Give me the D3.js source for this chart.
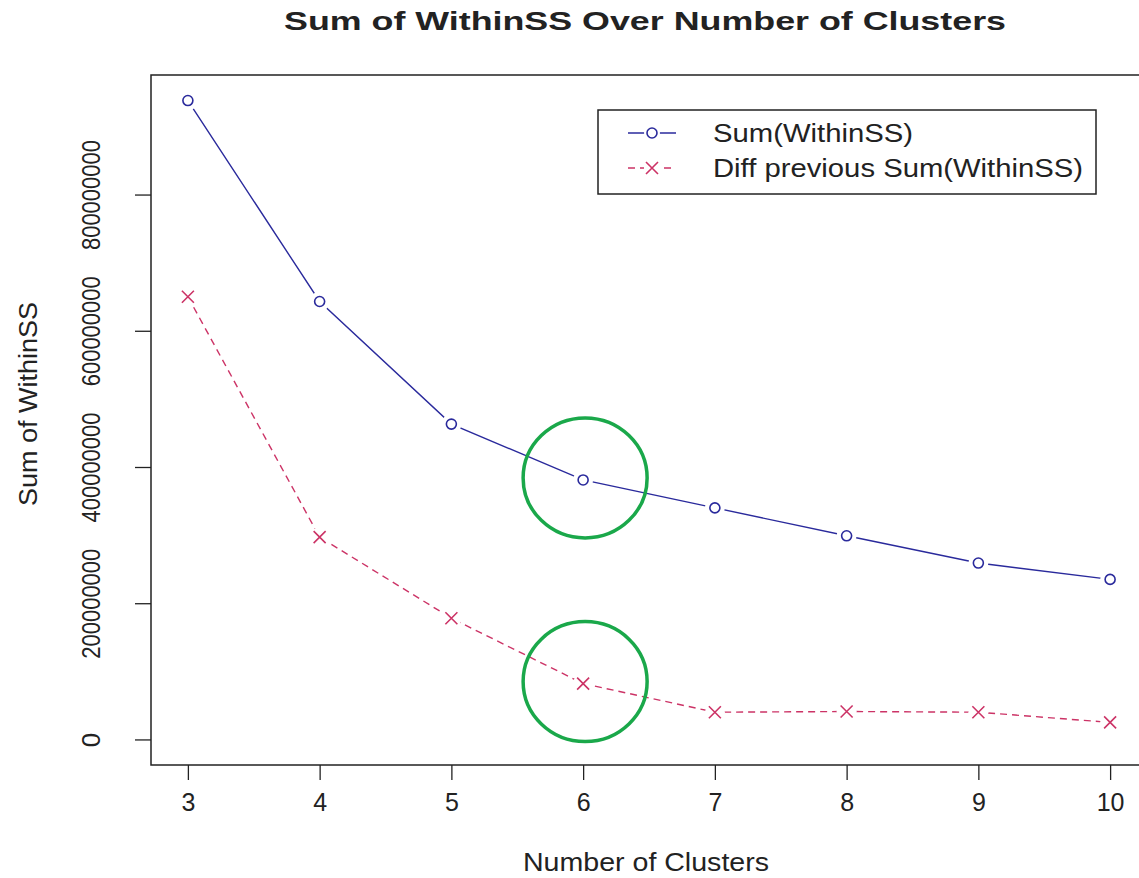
<!DOCTYPE html>
<html>
<head>
<meta charset="utf-8">
<script src="https://cdn.jsdelivr.net/npm/d3@7"></script>
<style>
  body { margin: 0; background: #fff; }
  text { font-family: "Liberation Sans", Arial, sans-serif; fill: #222; }
</style>
</head>
<body>
<svg id="chart"></svg>
<script>
var width = 1139;
var height = 878;

// data
var clusters = [3, 4, 5, 6, 7, 8, 9, 10];
var sumWithinSS = [938e6, 643e6, 463e6, 381e6, 340e6, 299e6, 259e6, 235e6];
var diffPrevious = [650e6, 297e6, 178e6, 82e6, 40e6, 41e6, 40e6, 25e6];
var yTicks = [0, 200e6, 400e6, 600e6, 800e6];
var highlighted = [6];
var seriesNames = ['Sum(WithinSS)', 'Diff previous Sum(WithinSS)'];

var blue = '#2a2a9c';
var red = '#cc3366';
var green = '#1aa84a';

var margin = { top: 75, bottom: 113, left: 151, right: -8 };

var svg = d3.select('#chart').attr('width', width).attr('height', height);

// R style 4% padding round the data
var xPad = (d3.max(clusters) - d3.min(clusters)) * 0.04;
var x = d3.scaleLinear()
  .domain([d3.min(clusters) - xPad, d3.max(clusters) + xPad])
  .range([margin.left, width - margin.right]);
var yMax = d3.max(sumWithinSS);
var y = d3.scaleLinear()
  .domain([0 - yMax * 0.04, yMax * 1.04])
  .range([height - margin.bottom, margin.top]);

// axes
var xAxis = svg.append('g')
  .attr('transform', 'translate(0,' + (height - margin.bottom) + ')')
  .call(d3.axisBottom(x).tickValues(clusters).tickSize(15).tickPadding(13).tickFormat(d3.format('d')));
var yAxis = svg.append('g')
  .attr('transform', 'translate(' + margin.left + ',0)')
  .call(d3.axisLeft(y).tickValues(yTicks).tickSize(16).tickPadding(8).tickFormat(d3.format('d')));
[xAxis, yAxis].forEach(function(a) {
  a.select('.domain').remove();
  a.selectAll('.tick line').attr('stroke', '#222').attr('stroke-width', 1.3);
  a.selectAll('.tick text').attr('fill', '#222');
});
xAxis.selectAll('.tick text').attr('font-size', 25);
yAxis.selectAll('.tick text')
  .attr('font-size', 26)
  .attr('text-anchor', 'middle')
  .attr('transform', 'translate(-60,0) rotate(-90)')
  .attr('x', 0)
  .attr('y', 0)
  .attr('dy', '0.35em')
  .attr('textLength', function(d) { return d === 0 ? null : 110; })
  .attr('lengthAdjust', 'spacingAndGlyphs');

// box
svg.append('rect')
  .attr('x', margin.left)
  .attr('y', margin.top)
  .attr('width', x.range()[1] - margin.left)
  .attr('height', height - margin.bottom - margin.top)
  .attr('fill', 'none')
  .attr('stroke', '#222')
  .attr('stroke-width', 1.5);

// lines
var rows = clusters.map(function(c, i) {
  return { k: c, sum: sumWithinSS[i], diff: diffPrevious[i] };
});
var sumLine = d3.line().x(function(d) { return x(d.k); }).y(function(d) { return y(d.sum); });
var diffLine = d3.line().x(function(d) { return x(d.k); }).y(function(d) { return y(d.diff); });

svg.append('path').datum(rows)
  .attr('d', sumLine)
  .attr('fill', 'none')
  .attr('stroke', blue)
  .attr('stroke-width', 1.4);
svg.append('path').datum(rows)
  .attr('d', diffLine)
  .attr('fill', 'none')
  .attr('stroke', red)
  .attr('stroke-width', 1.4)
  .attr('stroke-dasharray', '7,5');

// markers, with a gap round them like R's type="b"
svg.selectAll('.gap').data(rows).enter().append('circle')
  .attr('cx', function(d) { return x(d.k); })
  .attr('cy', function(d) { return y(d.sum); })
  .attr('r', 10).attr('fill', '#fff');
svg.selectAll('.gap2').data(rows).enter().append('circle')
  .attr('cx', function(d) { return x(d.k); })
  .attr('cy', function(d) { return y(d.diff); })
  .attr('r', 10).attr('fill', '#fff');
svg.selectAll('.pt').data(rows).enter().append('circle')
  .attr('cx', function(d) { return x(d.k); })
  .attr('cy', function(d) { return y(d.sum); })
  .attr('r', 5)
  .attr('fill', 'none')
  .attr('stroke', blue)
  .attr('stroke-width', 1.6);

var cross = function(sel, cx, cy, s, col) {
  sel.append('path')
    .attr('d', 'M' + (cx - s) + ',' + (cy - s) + 'L' + (cx + s) + ',' + (cy + s) +
      'M' + (cx - s) + ',' + (cy + s) + 'L' + (cx + s) + ',' + (cy - s))
    .attr('stroke', col)
    .attr('stroke-width', 1.6)
    .attr('fill', 'none');
};
rows.forEach(function(d) {
  cross(svg, x(d.k), y(d.diff), 6, red);
});

// green highlight rings
highlighted.forEach(function(k) {
  var r = rows.filter(function(d) { return d.k === k; })[0];
  [r.sum, r.diff].forEach(function(v) {
    svg.append('ellipse')
      .attr('cx', x(k) + 2)
      .attr('cy', y(v) - 2)
      .attr('rx', 62)
      .attr('ry', 60)
      .attr('fill', 'none')
      .attr('stroke', green)
      .attr('stroke-width', 3.5);
  });
});

// legend
var legend = svg.append('g').attr('transform', 'translate(598,110)');
legend.append('rect')
  .attr('width', 498).attr('height', 84)
  .attr('fill', '#fff').attr('stroke', '#222').attr('stroke-width', 1.5);
var legendRows = [
  { name: seriesNames[0], color: blue, dash: null, mark: 'o', len: 200 },
  { name: seriesNames[1], color: red, dash: '7,5', mark: 'x', len: 370 }
];
legendRows.forEach(function(d, i) {
  var ly = 23 + i * 35;
  legend.append('line')
    .attr('x1', 30).attr('x2', 78).attr('y1', ly).attr('y2', ly)
    .attr('stroke', d.color).attr('stroke-width', 1.4)
    .attr('stroke-dasharray', d.dash);
  if (d.mark === 'o') {
    legend.append('circle').attr('cx', 54).attr('cy', ly).attr('r', 8).attr('fill', '#fff');
    legend.append('circle').attr('cx', 54).attr('cy', ly).attr('r', 5)
      .attr('fill', 'none').attr('stroke', d.color).attr('stroke-width', 1.6);
  } else {
    legend.append('rect').attr('x', 46).attr('y', ly - 8).attr('width', 16).attr('height', 16).attr('fill', '#fff');
    cross(legend, 54, ly, 6, d.color);
  }
  legend.append('text')
    .attr('x', 115).attr('y', ly)
    .attr('dy', '0.35em')
    .attr('font-size', 25)
    .attr('textLength', d.len)
    .attr('lengthAdjust', 'spacingAndGlyphs')
    .text(d.name);
});

// titles
svg.append('text')
  .attr('x', 645).attr('y', 30)
  .attr('text-anchor', 'middle')
  .attr('font-size', 25)
  .attr('font-weight', 'bold')
  .attr('fill', '#111')
  .attr('textLength', 722)
  .attr('lengthAdjust', 'spacingAndGlyphs')
  .text('Sum of WithinSS Over Number of Clusters');
svg.append('text')
  .attr('x', 646).attr('y', 871)
  .attr('text-anchor', 'middle')
  .attr('font-size', 25)
  .attr('textLength', 246)
  .attr('lengthAdjust', 'spacingAndGlyphs')
  .text('Number of Clusters');
svg.append('text')
  .attr('transform', 'translate(37,' + 404 + ') rotate(-90)')
  .attr('text-anchor', 'middle')
  .attr('font-size', 25)
  .attr('textLength', 204)
  .attr('lengthAdjust', 'spacingAndGlyphs')
  .text('Sum of WithinSS');
</script>
</body>
</html>
